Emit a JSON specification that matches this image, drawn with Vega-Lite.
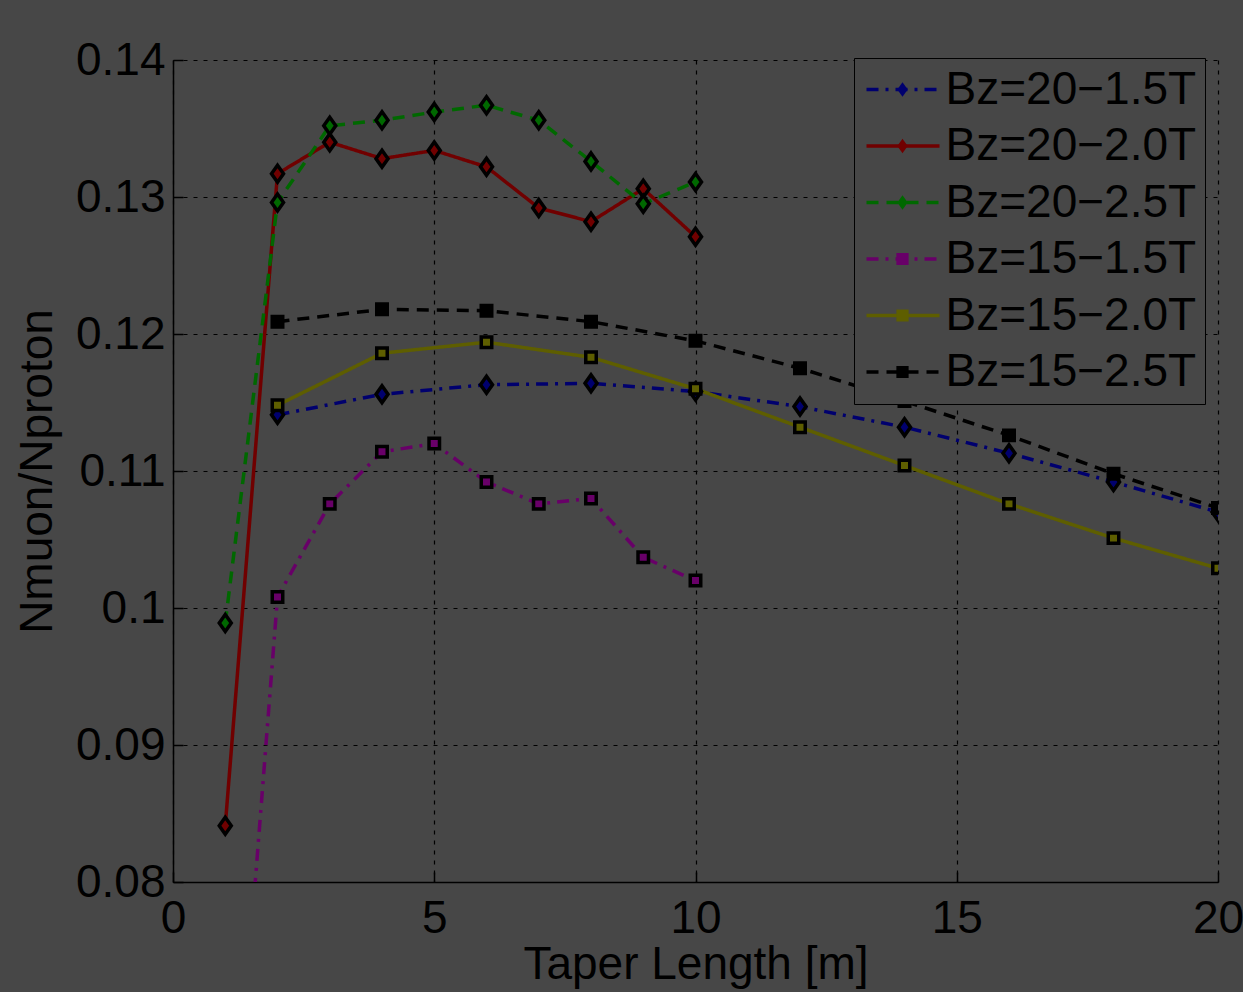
{
  "$schema": "https://vega.github.io/schema/vega-lite/v6.json",
  "width": 1045,
  "height": 822,
  "autosize": {"type": "none"},
  "padding": {"left": 173, "top": 60, "right": 25, "bottom": 110},
  "background": "#474747",
  "config": {
    "view": {"stroke": null},
    "font": "Liberation Sans",
    "axis": {
      "domainColor": "black",
      "domainWidth": 1.5,
      "tickColor": "black",
      "tickSize": -10,
      "tickWidth": 1.5,
      "gridColor": "black",
      "gridDash": [4, 6],
      "gridWidth": 1.2,
      "gridOpacity": 1,
      "labelFont": "Liberation Sans",
      "labelFontSize": 46,
      "labelColor": "black",
      "labelFlush": false,
      "labelOverlap": false,
      "titleFont": "Liberation Sans",
      "titleFontSize": 46,
      "titleColor": "black",
      "titleFontWeight": "normal"
    }
  },
  "data": {
    "values": [
      {"series": "Bz=20−1.5T", "x": 2, "y": 0.1141},
      {"series": "Bz=20−1.5T", "x": 4, "y": 0.1156},
      {"series": "Bz=20−1.5T", "x": 6, "y": 0.1163},
      {"series": "Bz=20−1.5T", "x": 8, "y": 0.1164},
      {"series": "Bz=20−1.5T", "x": 10, "y": 0.1158},
      {"series": "Bz=20−1.5T", "x": 12, "y": 0.1147},
      {"series": "Bz=20−1.5T", "x": 14, "y": 0.1132},
      {"series": "Bz=20−1.5T", "x": 16, "y": 0.1113},
      {"series": "Bz=20−1.5T", "x": 18, "y": 0.1092},
      {"series": "Bz=20−1.5T", "x": 20, "y": 0.1070},
      {"series": "Bz=20−2.0T", "x": 1, "y": 0.0841},
      {"series": "Bz=20−2.0T", "x": 2, "y": 0.1317},
      {"series": "Bz=20−2.0T", "x": 3, "y": 0.1340},
      {"series": "Bz=20−2.0T", "x": 4, "y": 0.1328},
      {"series": "Bz=20−2.0T", "x": 5, "y": 0.1334},
      {"series": "Bz=20−2.0T", "x": 6, "y": 0.1322},
      {"series": "Bz=20−2.0T", "x": 7, "y": 0.1292},
      {"series": "Bz=20−2.0T", "x": 8, "y": 0.1282},
      {"series": "Bz=20−2.0T", "x": 9, "y": 0.1306},
      {"series": "Bz=20−2.0T", "x": 10, "y": 0.1271},
      {"series": "Bz=20−2.5T", "x": 1, "y": 0.0989},
      {"series": "Bz=20−2.5T", "x": 2, "y": 0.1296},
      {"series": "Bz=20−2.5T", "x": 3, "y": 0.1352},
      {"series": "Bz=20−2.5T", "x": 4, "y": 0.1356},
      {"series": "Bz=20−2.5T", "x": 5, "y": 0.1362},
      {"series": "Bz=20−2.5T", "x": 6, "y": 0.1367},
      {"series": "Bz=20−2.5T", "x": 7, "y": 0.1356},
      {"series": "Bz=20−2.5T", "x": 8, "y": 0.1326},
      {"series": "Bz=20−2.5T", "x": 9, "y": 0.1295},
      {"series": "Bz=20−2.5T", "x": 10, "y": 0.1311},
      {"series": "Bz=15−1.5T", "x": 1, "y": 0.0520},
      {"series": "Bz=15−1.5T", "x": 2, "y": 0.1008},
      {"series": "Bz=15−1.5T", "x": 3, "y": 0.1076},
      {"series": "Bz=15−1.5T", "x": 4, "y": 0.1114},
      {"series": "Bz=15−1.5T", "x": 5, "y": 0.1120},
      {"series": "Bz=15−1.5T", "x": 6, "y": 0.1092},
      {"series": "Bz=15−1.5T", "x": 7, "y": 0.1076},
      {"series": "Bz=15−1.5T", "x": 8, "y": 0.1080},
      {"series": "Bz=15−1.5T", "x": 9, "y": 0.1037},
      {"series": "Bz=15−1.5T", "x": 10, "y": 0.1020},
      {"series": "Bz=15−2.0T", "x": 2, "y": 0.1148},
      {"series": "Bz=15−2.0T", "x": 4, "y": 0.1186},
      {"series": "Bz=15−2.0T", "x": 6, "y": 0.1194},
      {"series": "Bz=15−2.0T", "x": 8, "y": 0.1183},
      {"series": "Bz=15−2.0T", "x": 10, "y": 0.1160},
      {"series": "Bz=15−2.0T", "x": 12, "y": 0.1132},
      {"series": "Bz=15−2.0T", "x": 14, "y": 0.1104},
      {"series": "Bz=15−2.0T", "x": 16, "y": 0.1076},
      {"series": "Bz=15−2.0T", "x": 18, "y": 0.1051},
      {"series": "Bz=15−2.0T", "x": 20, "y": 0.1029},
      {"series": "Bz=15−2.5T", "x": 2, "y": 0.1209},
      {"series": "Bz=15−2.5T", "x": 4, "y": 0.1218},
      {"series": "Bz=15−2.5T", "x": 6, "y": 0.1217},
      {"series": "Bz=15−2.5T", "x": 8, "y": 0.1209},
      {"series": "Bz=15−2.5T", "x": 10, "y": 0.1195},
      {"series": "Bz=15−2.5T", "x": 12, "y": 0.1175},
      {"series": "Bz=15−2.5T", "x": 14, "y": 0.1151},
      {"series": "Bz=15−2.5T", "x": 16, "y": 0.1126},
      {"series": "Bz=15−2.5T", "x": 18, "y": 0.1098},
      {"series": "Bz=15−2.5T", "x": 20, "y": 0.1073}
    ]
  },
  "encoding": {
    "x": {
      "field": "x",
      "type": "quantitative",
      "scale": {"domain": [0, 20], "nice": false},
      "axis": {"title": "Taper Length [m]", "values": [0, 5, 10, 15, 20], "labelPadding": 24, "titlePadding": 1}
    },
    "y": {
      "field": "y",
      "type": "quantitative",
      "scale": {"domain": [0.08, 0.14], "nice": false, "zero": false},
      "axis": {"title": "Nmuon/Nproton", "values": [0.08, 0.09, 0.1, 0.11, 0.12, 0.13, 0.14], "format": ".2~f", "labelPadding": 18, "titlePadding": 14}
    }
  },
  "layer": [
    {
      "mark": {"type": "line", "strokeWidth": 3.5, "clip": true},
      "encoding": {
        "color": {
          "field": "series",
          "type": "nominal",
          "scale": {
            "domain": ["Bz=20−1.5T", "Bz=20−2.0T", "Bz=20−2.5T", "Bz=15−1.5T", "Bz=15−2.0T", "Bz=15−2.5T"],
            "range": ["#00006e", "#700000", "#006800", "#680068", "#5e5e00", "#000000"]
          },
          "legend": {
            "title": null, "orient": "none", "legendX": 681, "legendY": -2,
            "symbolType": "stroke", "symbolSize": 5329, "symbolStrokeWidth": 3.5,
            "clipHeight": 46, "padding": 8.5, "symbolOffset": 2, "labelOffset": 4, "rowPadding": 10.5,
            "labelFont": "Liberation Sans", "labelFontSize": 46, "labelColor": "black", "labelLimit": 400,
            "strokeColor": "black", "fillColor": "#474747"
          }
        },
        "strokeDash": {
          "field": "series",
          "type": "nominal",
          "scale": {
            "domain": ["Bz=20−1.5T", "Bz=20−2.0T", "Bz=20−2.5T", "Bz=15−1.5T", "Bz=15−2.0T", "Bz=15−2.5T"],
            "range": [[12, 7, 3, 7], [1, 0], [12, 8], [12, 7, 3, 7], [1, 0], [12, 8]]
          },
          "legend": null
        }
      }
    },
    {
      "mark": {"type": "point", "filled": true, "stroke": "black", "strokeWidth": 3.5, "opacity": 1, "clip": true},
      "encoding": {
        "fill": {
          "field": "series",
          "type": "nominal",
          "scale": {
            "domain": ["Bz=20−1.5T", "Bz=20−2.0T", "Bz=20−2.5T", "Bz=15−1.5T", "Bz=15−2.0T", "Bz=15−2.5T", "none"],
            "range": ["#00006e", "#700000", "#006800", "#680068", "#5e5e00", "#000000", "#000000"]
          },
          "legend": {
            "title": null, "orient": "none", "legendX": 713, "legendY": -2,
            "values": ["Bz=20−1.5T", "Bz=20−2.0T", "Bz=20−2.5T", "Bz=15−1.5T", "Bz=15−2.0T", "Bz=15−2.5T"],
            "clipHeight": 46, "padding": 8.5, "symbolOffset": 0, "rowPadding": 10.5,
            "labelFontSize": 10, "labelExpr": "''",
            "symbolStrokeColor": "black", "symbolStrokeWidth": 3.5, "symbolSize": 150, "symbolOpacity": 1
          }
        },
        "shape": {
          "field": "series",
          "type": "nominal",
          "scale": {
            "domain": ["Bz=20−1.5T", "Bz=20−2.0T", "Bz=20−2.5T", "Bz=15−1.5T", "Bz=15−2.0T", "Bz=15−2.5T", "none"],
            "range": ["M0,-1.2L0.85,0L0,1.2L-0.85,0Z", "M0,-1.2L0.85,0L0,1.2L-0.85,0Z", "M0,-1.2L0.85,0L0,1.2L-0.85,0Z", "square", "square", "square", "square"]
          },
          "legend": {
            "title": null, "orient": "none", "legendX": 713, "legendY": -2,
            "values": ["Bz=20−1.5T", "Bz=20−2.0T", "Bz=20−2.5T", "Bz=15−1.5T", "Bz=15−2.0T", "Bz=15−2.5T"],
            "clipHeight": 46, "padding": 8.5, "symbolOffset": 0, "rowPadding": 10.5,
            "labelFontSize": 10, "labelExpr": "''",
            "symbolStrokeColor": "black", "symbolStrokeWidth": 3.5, "symbolSize": 150, "symbolOpacity": 1,
            "encode": {"symbols": {"stroke": {"value": "black"}, "strokeWidth": {"value": 3.5}, "size": {"value": 150}}}
          }
        },
        "size": {"condition": {"test": "indexof(datum.series, 'Bz=20') === 0", "value": 200}, "value": 110}
      }
    }
  ]
}
